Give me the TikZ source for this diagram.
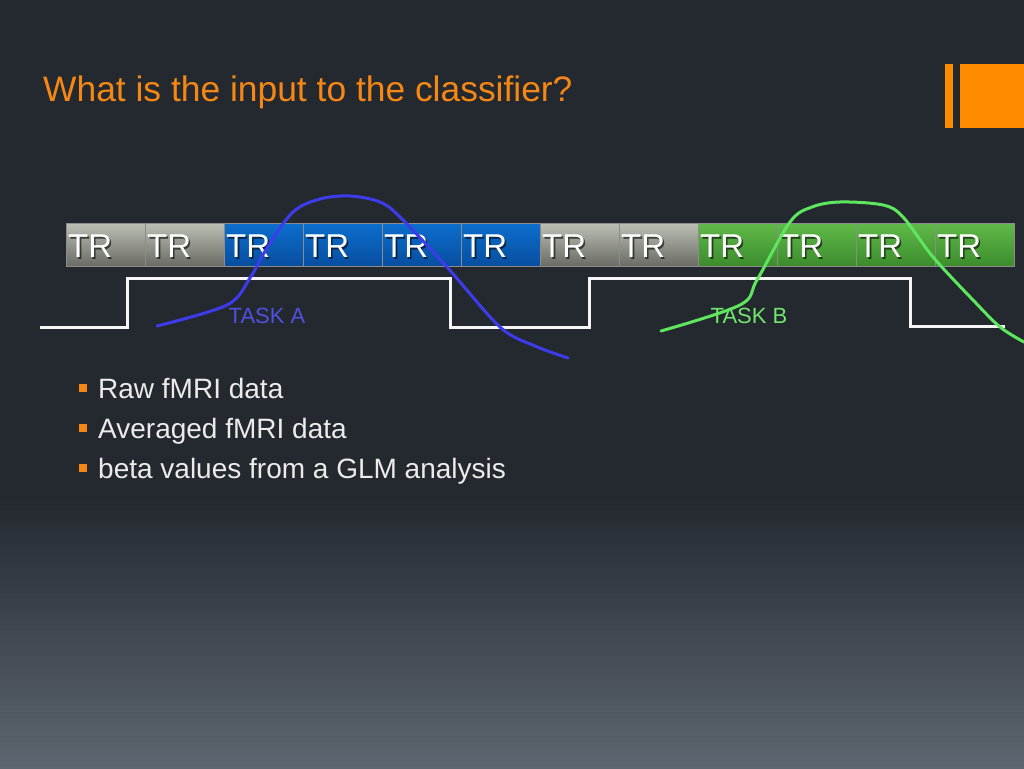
\documentclass[tikz,border=0pt]{standalone}
\usepackage{fontspec}
\setmainfont{Liberation Sans}
\usetikzlibrary{calc}
\definecolor{bgtop}{RGB}{36,41,48}
\definecolor{bgbot}{RGB}{93,102,112}
\definecolor{titleorange}{RGB}{245,135,20}
\definecolor{iconorange}{RGB}{255,140,0}
\definecolor{graytop}{RGB}{188,191,180}
\definecolor{graybot}{RGB}{105,107,100}
\definecolor{bluetop}{RGB}{12,110,205}
\definecolor{bluebot}{RGB}{8,78,160}
\definecolor{greentop}{RGB}{95,185,72}
\definecolor{greenbot}{RGB}{60,140,45}
\definecolor{curveblue}{RGB}{60,60,235}
\definecolor{curvegreen}{RGB}{95,230,95}
\definecolor{taskablue}{RGB}{80,80,225}
\definecolor{taskbgreen}{RGB}{115,230,110}
\definecolor{linewhite}{RGB}{245,245,245}
\definecolor{textwhite}{RGB}{235,235,235}
\tikzset{
  trbox/.style={rectangle, minimum width=79pt, minimum height=43pt, inner sep=0pt, anchor=north west, draw=black!45, line width=0.4pt},
  trgray/.style={trbox, top color=graytop, bottom color=graybot},
  trblue/.style={trbox, top color=bluetop, bottom color=bluebot},
  trgreen/.style={trbox, top color=greentop, bottom color=greenbot},
  trlabel/.style={anchor=base west, inner sep=0pt, text=white, font=\fontsize{33}{36}\selectfont},
  trshadow/.style={anchor=base west, inner sep=0pt, text=black, opacity=0.6, font=\fontsize{33}{36}\selectfont},
  boxcar/.style={draw=linewhite, line width=3pt},
  hrf/.style={line width=3pt, line cap=round},
  bullettext/.style={anchor=base west, inner sep=0pt, text=textwhite, font=\fontsize{28}{32}\selectfont},
  bulletsq/.style={fill=titleorange, minimum size=8.5pt, inner sep=0pt},
  tasklabel/.style={anchor=base, inner sep=0pt, font=\fontsize{22}{24}\selectfont}
}
\begin{document}
\begin{tikzpicture}[x=1pt,y=-1pt]
\useasboundingbox (0,0) rectangle (1024,768);
% background
\fill[bgtop] (0,0) rectangle (1024,500);
\shade[top color=bgtop, bottom color=bgbot] (0,499) rectangle (1024,768);
% title
\node[anchor=base west, inner sep=0pt, text=titleorange, font=\fontsize{35.4}{40}\selectfont] (title) at (43,101) {What is the input to the classifier?};
% icon
\fill[iconorange] (945,64) rectangle (953,128);
\fill[iconorange] (960,64) rectangle (1024,128);
% TR boxes
\foreach \i/\s in {1/trgray,2/trgray,3/trblue,4/trblue,5/trblue,6/trblue,7/trgray,8/trgray,9/trgreen,10/trgreen,11/trgreen,12/trgreen}{
  \node[\s] (b\i) at ({66+79*(\i-1)},223) {};
  \node[trshadow] at ($(b\i.south west)+(3.6,-7.4)$) {TR};
  \node[trlabel] (l\i) at ($(b\i.south west)+(2,-9)$) {TR};
}
% boxcar
\coordinate (c0) at (40,327);
\coordinate (c1) at (127,327);
\coordinate (c2) at (127,278);
\coordinate (c3) at (450,278);
\coordinate (c4) at (450,327);
\coordinate (c5) at (589,327);
\coordinate (c6) at (589,278);
\coordinate (c7) at (910,278);
\coordinate (c8) at (910,326);
\coordinate (c9) at (1005,326);
\draw[boxcar] (c0) -- (c1) -- (c2) -- (c3) -- (c4) -- (c5) -- (c6) -- (c7) -- (c8) -- (c9);
% labels
\node[tasklabel, text=taskablue] (taska) at (267,323) {TASK A};
\node[tasklabel, text=taskbgreen] (taskb) at (749,323) {TASK B};
% HRF curves
\draw[hrf, curveblue] plot[smooth, tension=0.55] coordinates {(157,326) (227,305) (250,278) (267,248) (293,212) (320,199) (350,196) (380,202) (400,217) (447,267) (500,327) (535,346) (568,358)};
\draw[hrf, curvegreen] plot[smooth, tension=0.55] coordinates {(661,331) (740,305) (757,280) (790,222) (812,207) (840,202) (883,205) (903,217) (933,257) (973,300) (1000,327) (1024,342)};
% bullets
\node[bulletsq] (q1) at (83,388) {};
\node[bullettext] (t1) at (98,398) {Raw fMRI data};
\node[bulletsq] (q2) at (83,428) {};
\node[bullettext] (t2) at (98,438) {Averaged fMRI data};
\node[bulletsq] (q3) at (83,468) {};
\node[bullettext] (t3) at (98,478) {beta values from a GLM analysis};
\end{tikzpicture}
\end{document}
